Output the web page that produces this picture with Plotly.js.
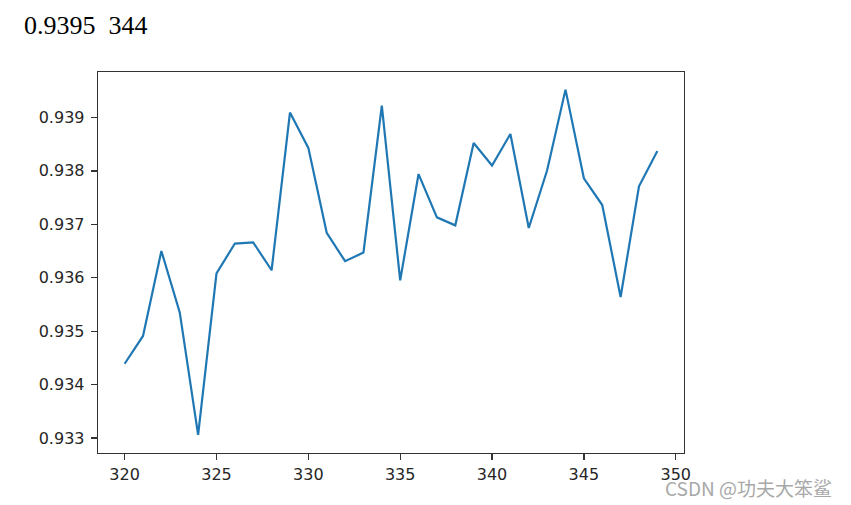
<!DOCTYPE html>
<html>
<head>
<meta charset="utf-8">
<script src="https://cdn.plot.ly/plotly-3.0.1.min.js"></script>
<style>
html, body { margin: 0; padding: 0; background: #fff; }
#chart { width: 851px; height: 505px; }
</style>
</head>
<body>
<div id="chart"></div>
<script>
const epochs = [320, 321, 322, 323, 324, 325, 326, 327, 328, 329,
                330, 331, 332, 333, 334, 335, 336, 337, 338, 339,
                340, 341, 342, 343, 344, 345, 346, 347, 348, 349];
const accuracy = [0.93439, 0.93491, 0.93650, 0.93535, 0.93306, 0.93608, 0.93664, 0.93666, 0.93614, 0.93909,
                  0.93843, 0.93684, 0.93631, 0.93647, 0.93922, 0.93595, 0.93794, 0.93713, 0.93698, 0.93852,
                  0.93810, 0.93869, 0.93693, 0.93801, 0.93952, 0.93786, 0.93736, 0.93564, 0.93771, 0.93837];
const headerText = '0.9395\u00a0\u00a0344';
const watermark = 'CSDN @功夫大笨鲨';
const xTicks = [320, 325, 330, 335, 340, 345, 350];
const yTicks = [0.933, 0.934, 0.935, 0.936, 0.937, 0.938, 0.939];

const axisCommon = {
  showline: true, mirror: true, linecolor: '#333', linewidth: 1.3,
  ticks: 'outside', ticklen: 6, tickwidth: 1.3, tickcolor: '#333',
  showgrid: false, zeroline: false, automargin: false,
  tickfont: {family: 'DejaVu Sans', size: 16, color: '#262626'}
};

const trace = {
  x: epochs, y: accuracy, type: 'scatter', mode: 'lines',
  line: {color: '#1f77b4', width: 2.2},
  hoverinfo: 'skip'
};

const layout = {
  width: 851, height: 505,
  margin: {l: 98, r: 167, t: 72, b: 52},
  paper_bgcolor: '#fff', plot_bgcolor: '#fff',
  showlegend: false,
  xaxis: Object.assign({}, axisCommon, {
    range: [318.55, 350.45], tickvals: xTicks, ticktext: xTicks.map(String)
  }),
  yaxis: Object.assign({}, axisCommon, {
    range: [0.93272, 0.93985], tickvals: yTicks, ticktext: yTicks.map(v => v.toFixed(3)),
    ticklabelstandoff: 3
  }),
  annotations: [
    {text: headerText, xref: 'paper', yref: 'paper', x: -0.1297, y: 1.1208,
     xanchor: 'left', yanchor: 'middle', showarrow: false,
     font: {family: 'Liberation Serif', size: 26, color: '#000'}},
    {text: watermark, xref: 'paper', yref: 'paper', x: 0.9642, y: -0.0901,
     xanchor: 'left', yanchor: 'middle', showarrow: false,
     font: {family: 'Noto Sans CJK SC', size: 19, color: '#a8a8a8'}}
  ]
};

Plotly.newPlot('chart', [trace], layout, {staticPlot: true, displayModeBar: false});
</script>
</body>
</html>
